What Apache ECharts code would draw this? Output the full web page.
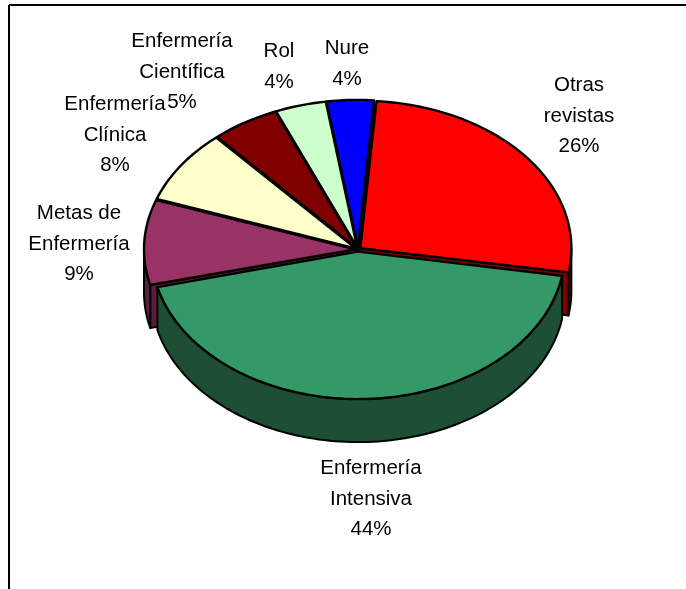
<!DOCTYPE html>
<html>
<head>
<meta charset="utf-8">
<style>
  html, body { margin: 0; padding: 0; background: #fff; }
  #chart { width: 686px; height: 589px; }
</style>
<script src="https://cdn.jsdelivr.net/npm/echarts@6/dist/echarts.min.js"></script>
</head>
<body>
<div id="chart"></div>
<script>
// datos de la tarta, en el orden del original (a partir de las 12, sentido horario)
const names = ['Otras\nrevistas', 'Enfermería\nIntensiva', 'Metas de\nEnfermería', 'Enfermería\nClínica', 'Enfermería\nCientífica', 'Rol', 'Nure'];
const values = [26.4, 43.5, 9.3, 8.1, 5.2, 3.9, 3.6];
const topColors = ['#ff0000', '#339966', '#993366', '#ffffcc', '#800000', '#ccffcc', '#0000ff'];
const sideColors = ['#800000', '#1d4f35', '#5a1e3c', '#808066', '#400000', '#668066', '#000080'];

// layout
const drawOrder = [6, 5, 4, 3, 2, 0, 1];
const labelPos = [[579, 70], [371, 453], [79, 198], [115, 89], [182, 26], [279, 36], [347, 33]];
const widthScale = [1, 0.98, 1, 1, 1, 1, 1];
const startAngle = 4.4;
const cx = 358, cy = 249.5, rx = 211, ry = 147.5, depth = 43, explode = 3;

const total = values.reduce((a, b) => a + b, 0);
const angles = [];
let acc = startAngle;
values.forEach(function (v) {
  angles.push([acc, acc + v / total * 360]);
  acc += v / total * 360;
});

function rim(a, ox, oy, dy, k) {
  const r = a * Math.PI / 180;
  return [ox + rx * k * Math.sin(r), oy - ry * Math.cos(r) + dy];
}

function arcPoints(a0, a1, ox, oy, dy, k) {
  const pts = [];
  for (let a = a0; a < a1; a += 1.5) pts.push(rim(a, ox, oy, dy, k));
  pts.push(rim(a1, ox, oy, dy, k));
  return pts;
}

function poly(points, fill, width) {
  return {
    type: 'polygon',
    shape: { points: points },
    style: { fill: fill, stroke: '#000', lineWidth: width, lineJoin: 'round' }
  };
}

function renderSlice(params, api) {
  const i = api.value(0);
  const a0 = angles[i][0], a1 = angles[i][1];
  const k = widthScale[i];
  const mid = (a0 + a1) / 2 * Math.PI / 180;
  const ox = cx + explode * Math.sin(mid);
  const oy = cy - explode * Math.cos(mid) * ry / rx;
  const children = [];
  const side = sideColors[i];

  // caras del corte, solo las que miran hacia delante
  [[a0, Math.sin(a0 * Math.PI / 180) < 0], [a1, Math.sin(a1 * Math.PI / 180) > 0]].forEach(function (f) {
    if (!f[1]) return;
    children.push(poly([[ox, oy], rim(f[0], ox, oy, 0, k), rim(f[0], ox, oy, depth, k), [ox, oy + depth]], side, 2));
  });

  // pared exterior
  const from = Math.max(a0, 90), to = Math.min(a1, 270);
  if (to > from) {
    children.push(poly(arcPoints(from, to, ox, oy, 0, k).concat(arcPoints(from, to, ox, oy, depth, k).reverse()), side, 2));
  }

  // cara superior
  children.push(poly([[ox, oy]].concat(arcPoints(a0, a1, ox, oy, 0, k)), topColors[i], 2.4));
  return { type: 'group', children: children };
}

const chart = echarts.init(document.getElementById('chart'), null, { renderer: 'canvas' });

chart.setOption({
  animation: false,
  graphic: [
    { type: 'line', shape: { x1: 9, y1: 5, x2: 686, y2: 5 }, style: { stroke: '#000', lineWidth: 2 } },
    { type: 'line', shape: { x1: 9, y1: 5, x2: 9, y2: 589 }, style: { stroke: '#000', lineWidth: 2 } }
  ].concat(names.map(function (n, i) {
    return {
      type: 'text',
      x: labelPos[i][0],
      y: labelPos[i][1],
      z: 10,
      style: {
        text: n + '\n' + Math.round(values[i]) + '%',
        align: 'center',
        verticalAlign: 'top',
        fontFamily: '"Liberation Sans", Arial, sans-serif',
        fontSize: 20.5,
        lineHeight: 30.6,
        fill: '#000'
      }
    };
  })),
  series: [{
    type: 'custom',
    coordinateSystem: 'none',
    renderItem: renderSlice,
    data: drawOrder.map(function (i) { return { name: names[i], value: [i, values[i]] }; })
  }]
});
</script>
</body>
</html>
